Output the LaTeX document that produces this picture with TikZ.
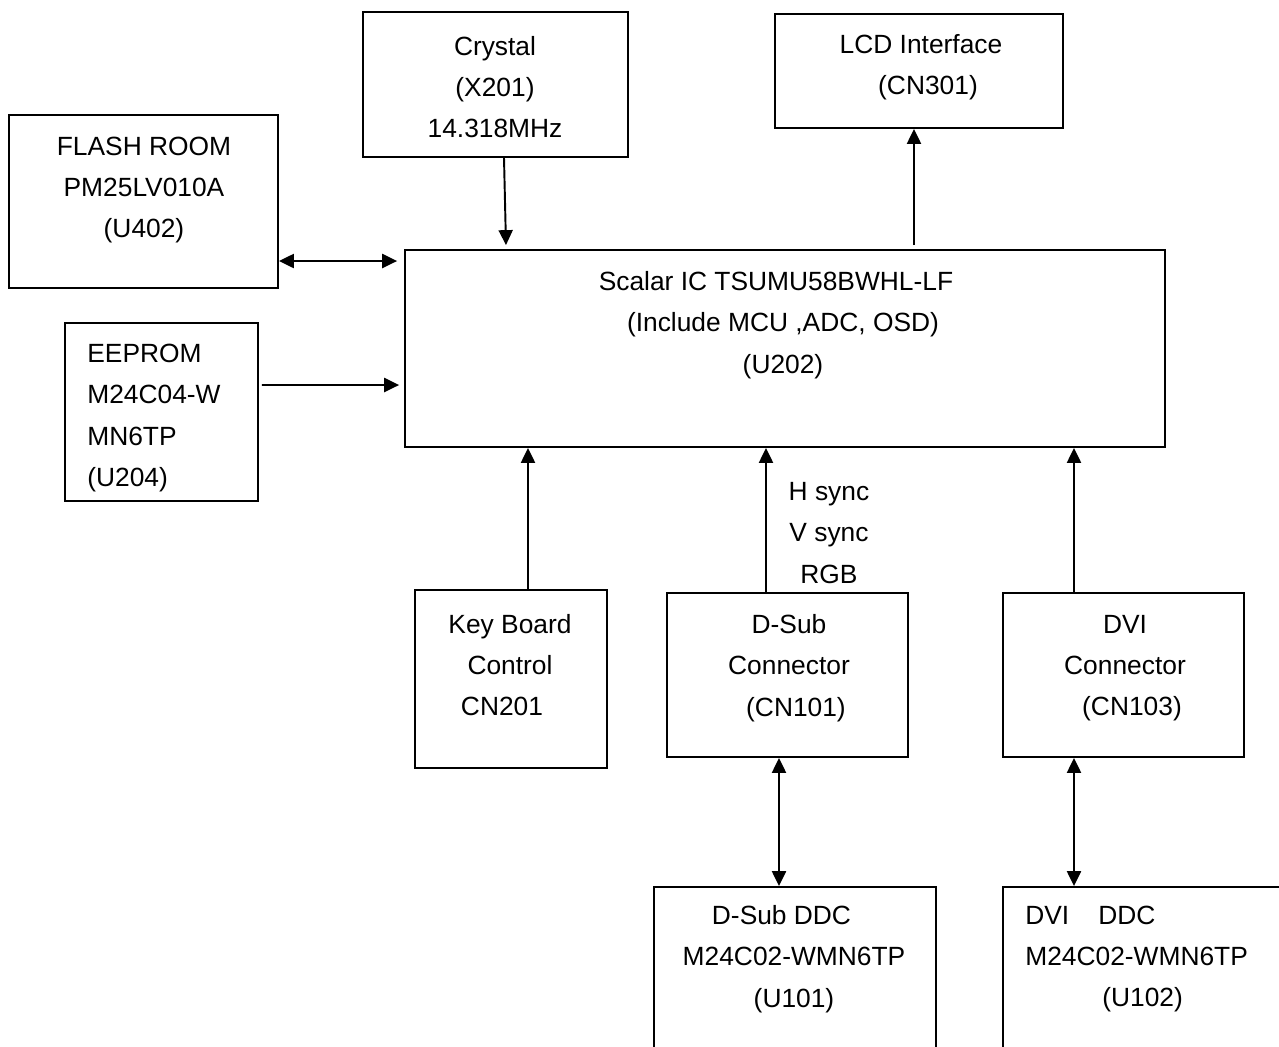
\documentclass[tikz,border=0pt]{standalone}
\usepackage{fontspec}
\setmainfont{Liberation Sans}
\usetikzlibrary{arrows.meta,calc}

\begin{document}
\begin{tikzpicture}[x=0.02cm,y=-0.02cm,
  box/.style={draw, line width=1.1pt, inner sep=0pt},
  txt/.style={inner sep=0pt, align=center, font=\fontsize{15}{23.5}\selectfont},
  arr/.style={line width=1.1pt, -{Triangle[length=8.5pt,width=8pt]}},
  darr/.style={line width=1.1pt, {Triangle[length=8.5pt,width=8pt]}-{Triangle[length=8.5pt,width=8pt]}}]
\useasboundingbox (0,0) rectangle (1279,1046);
\clip (0,0) rectangle (1279,1046);

\node[box, minimum width=5.30cm, minimum height=2.90cm] (crystal) at (495.5,84.5) {};
\node[box, minimum width=5.76cm, minimum height=2.28cm] (lcd) at (919,71) {};
\node[box, minimum width=5.38cm, minimum height=3.46cm] (flash) at (143.5,201.5) {};
\node[box, minimum width=3.86cm, minimum height=3.56cm] (eeprom) at (161.5,412) {};
\node[box, minimum width=15.20cm, minimum height=3.94cm] (scalar) at (785,348.5) {};
\node[box, minimum width=3.84cm, minimum height=3.56cm] (keyb) at (511,679) {};
\node[box, minimum width=4.82cm, minimum height=3.28cm] (dsub) at (787.5,675) {};
\node[box, minimum width=4.82cm, minimum height=3.28cm] (dvi) at (1123.5,675) {};
\node[box, minimum width=5.64cm, minimum height=4.26cm] (dsubddc) at (795,993.5) {};
\node[box, minimum width=6.74cm, minimum height=4.26cm] (dviddc) at (1171.5,993.5) {};

\node[txt] (crystal-t) at (495,87) {Crystal\\(X201)\\14.318MHz};
\node[txt] (lcd-t) at (921,67) {LCD Interface\\\hspace*{0.28cm}(CN301)};
\node[txt] (flash-t) at (144,190) {FLASH ROOM\\PM25LV010A\\(U402)};
\node[txt, align=left, anchor=west] (eeprom-t) at (87,418) {EEPROM\\M24C04-W\\MN6TP\\(U204)};
\node[txt] (scalar-t) at (783,325) {Scalar IC TSUMU58BWHL-LF\hspace*{0.28cm}\\(Include MCU ,ADC, OSD)\\(U202)};
\node[txt] (keyb-t) at (510,665) {Key Board\\Control\\CN201\hspace*{0.32cm}};
\node[txt] (dsub-t) at (789,668) {D-Sub\\Connector\\\hspace*{0.28cm}(CN101)};
\node[txt] (dvi-t) at (1125,668) {DVI\\Connector\\\hspace*{0.28cm}(CN103)};
\node[txt] (sync-t) at (829,533) {H sync\\V sync\\RGB};
\node[txt] (dsubddc-t) at (794,959) {D-Sub DDC\hspace*{0.5cm}\\M24C02-WMN6TP\\(U101)};
\node[txt, align=left, anchor=west] (dviddc-t) at (1025,959) {DVI\hspace{0.58cm}DDC\\M24C02-WMN6TP\\\hspace*{1.54cm}(U102)};

\draw[arr] ($(crystal.south)+(8.5,0)$) -- ($(scalar.north)+(-279,-4)$);
\draw[arr] ($(scalar.north)+(129,-4)$) -- ($(lcd.south)+(-5,0)$);
\draw[darr] ($(flash.east)+(0,59.5)$) -- ($(scalar.west)+(-7,-87.5)$);
\draw[arr] ($(eeprom.east)+(3,-27)$) -- ($(scalar.west)+(-5,36.5)$);
\draw[arr] ($(keyb.north)+(17,0)$) -- ($(scalar.south)+(-257,0)$);
\draw[arr] ($(dsub.north)+(-21.5,0)$) -- ($(scalar.south)+(-19,0)$);
\draw[arr] ($(dvi.north)+(-49.5,0)$) -- ($(scalar.south)+(289,0)$);
\draw[darr] ($(dsub.south)+(-8.5,0)$) -- ($(dsubddc.north)+(-16,0)$);
\draw[darr] ($(dvi.south)+(-49.5,0)$) -- ($(dviddc.north)+(-97.5,0)$);
\end{tikzpicture}
\end{document}
